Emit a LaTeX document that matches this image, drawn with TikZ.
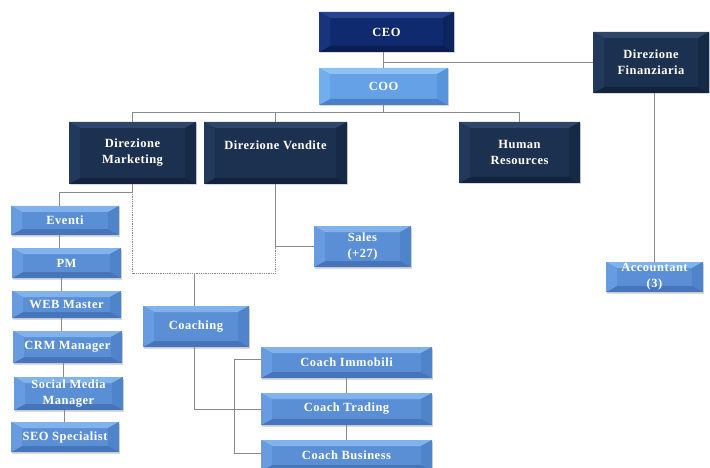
\documentclass[tikz,border=0pt]{standalone}
\usepackage{fontspec}
\setmainfont{Liberation Serif}[LetterSpace=4]
\usetikzlibrary{calc,shadows}
\definecolor{navyF}{HTML}{0F2A6E}\definecolor{navyT}{HTML}{25448E}\definecolor{navyB}{HTML}{0A1E50}\definecolor{navyL}{HTML}{18357C}\definecolor{navyR}{HTML}{0D245E}
\definecolor{darkF}{HTML}{1C3050}\definecolor{darkT}{HTML}{2E4669}\definecolor{darkB}{HTML}{13233D}\definecolor{darkL}{HTML}{23395B}\definecolor{darkR}{HTML}{172A45}
\definecolor{liteF}{HTML}{5A8FD6}\definecolor{liteT}{HTML}{80B2EC}\definecolor{liteB}{HTML}{4675BA}\definecolor{liteL}{HTML}{679DE0}\definecolor{liteR}{HTML}{4F84CB}
\definecolor{cooF}{HTML}{64A1E6}\definecolor{cooT}{HTML}{8EC2F4}\definecolor{cooB}{HTML}{4B80C6}\definecolor{cooL}{HTML}{72AEEE}\definecolor{cooR}{HTML}{5894DB}
\definecolor{linec}{HTML}{8A8A8A}
\tikzset{
  bev/.style n args={5}{fill=#1, path picture={
    \coordinate (pa) at (path picture bounding box.north west);
    \coordinate (pb) at (path picture bounding box.north east);
    \coordinate (pc) at (path picture bounding box.south east);
    \coordinate (pd) at (path picture bounding box.south west);
    \fill[#2] (pa) -- (pb) -- ($(pb)+(-11pt,-6pt)$) -- ($(pa)+(11pt,-6pt)$) -- cycle;
    \fill[#5] (pb) -- (pc) -- ($(pc)+(-11pt,6pt)$) -- ($(pb)+(-11pt,-6pt)$) -- cycle;
    \fill[#3] (pd) -- (pc) -- ($(pc)+(-11pt,6pt)$) -- ($(pd)+(11pt,6pt)$) -- cycle;
    \fill[#4] (pa) -- (pd) -- ($(pd)+(11pt,6pt)$) -- ($(pa)+(11pt,-6pt)$) -- cycle;
  }},
  boxbase/.style={rectangle, inner sep=0pt, align=center, text=white,
    font=\bfseries\fontsize{12.5}{16}\selectfont,
    drop shadow={shadow xshift=1.2pt, shadow yshift=-1.5pt, opacity=0.3}},
  navybox/.style={boxbase, bev={navyF}{navyT}{navyB}{navyL}{navyR}},
  darkbox/.style={boxbase, bev={darkF}{darkT}{darkB}{darkL}{darkR}},
  litebox/.style={boxbase, bev={liteF}{liteT}{liteB}{liteL}{liteR}},
  coobox/.style={boxbase, bev={cooF}{cooT}{cooB}{cooL}{cooR}},
  conn/.style={draw=linec, line width=0.8pt},
  dotconn/.style={draw=linec, line width=0.8pt, densely dotted},
}
\newcommand\orgbox[7][litebox]{%
  \node[#1, minimum width={(#5-#3)*1pt}, minimum height={(#6-#4)*1pt}] (#2)
    at ({(#3+#5)/2},{(#4+#6)/2}) {#7};}
\begin{document}
\begin{tikzpicture}[x=1pt,y=-1pt]
\useasboundingbox (0,0) rectangle (710,468);
% top
\orgbox[navybox]{ceo}{319}{12}{454}{52}{CEO}
\orgbox[coobox]{coo}{319}{68}{448}{105}{COO}
\orgbox[darkbox]{df}{593}{32}{709}{93}{Direzione\\Finanziaria}
\orgbox[darkbox]{dm}{69}{122}{196}{184}{Direzione\\Marketing}
\orgbox[darkbox]{dv}{204}{122}{347}{184}{Direzione Vendite\\\phantom{M}}
\orgbox[darkbox]{hr}{459}{122}{580}{183}{Human\\Resources}
\orgbox{acc}{606}{262}{703}{292}{Accountant\\(3)}
% left column
\orgbox{ev}{11}{206}{119}{235}{Eventi}
\orgbox{pm}{12}{248}{121}{278}{PM}
\orgbox{web}{12}{291}{121}{318}{WEB Master}
\orgbox{crm}{13}{331}{122}{363}{CRM Manager}
\orgbox{smm}{14}{377}{123}{410}{Social Media\\Manager}
\orgbox{seo}{11}{422}{119}{452}{SEO Specialist}
% sales & coaching
\orgbox{sales}{314}{226}{411}{267}{Sales\\(+27)}
\orgbox{coach}{143}{306}{249}{347}{Coaching}
\orgbox{ci}{261}{347}{432}{378}{Coach Immobili}
\orgbox{ct}{261}{393}{432}{425}{Coach Trading}
\orgbox{cb}{261}{440}{432}{471}{Coach Business}
% connectors
\coordinate (bus) at (0,112);
\coordinate (mk) at (0,192);
\coordinate (lo) at (0,273);
\coordinate (brk) at (234,0);
\draw[conn] (coo.north) -- (coo.north |- ceo.south);
\draw[conn] (coo.north |- df.west) -- (df.west);
\draw[conn] (coo.south) -- (coo.south |- bus);
\draw[conn] (dm.north) -- (dm.north |- bus) -- (hr.north |- bus) -- (hr.north);
\draw[conn] (dv.north) -- (dv.north |- bus);
\draw[conn] (acc.north) -- (acc.north |- df.south);
% marketing column
\draw[conn] (dm.south) -- (dm.south |- mk) -- ([xshift=-6pt]ev.north |- mk) -- ([xshift=-6pt]ev.north);
\draw[conn] ([xshift=-6pt]ev.south) -- ([xshift=-6pt]ev.south |- pm.north);
\draw[conn] ([xshift=-5pt]pm.south) -- ([xshift=-5pt]pm.south |- web.north);
\draw[conn] ([xshift=-5pt]web.south) -- ([xshift=-5pt]web.south |- crm.north);
\draw[conn] ([xshift=-4pt]crm.south) -- ([xshift=-4pt]crm.south |- smm.north);
\draw[conn] ([xshift=-4pt]smm.south) -- ([xshift=-4pt]smm.south |- seo.north);
% dotted frame
\draw[dotconn] (dm.south |- mk) -- (dm.south |- lo) -- (dv.south |- lo) -- (dv.south |- sales.west);
\draw[conn] (dv.south) -- (dv.south |- sales.west) -- (sales.west);
\draw[conn] ([xshift=-2pt]coach.north) -- ([xshift=-2pt]coach.north |- lo);
% coaching
\draw[conn] ([xshift=-2pt]coach.south) |- (ct.west);
\draw[conn] ([yshift=3pt]ci.west) -- ([yshift=3pt]brk |- ci.west) -- ([yshift=2pt]brk |- cb.west) -- ([yshift=2pt]cb.west);
\draw[conn] (ci.south) -- (ct.north);
\draw[conn] (ct.south) -- (cb.north);
\end{tikzpicture}
\end{document}
